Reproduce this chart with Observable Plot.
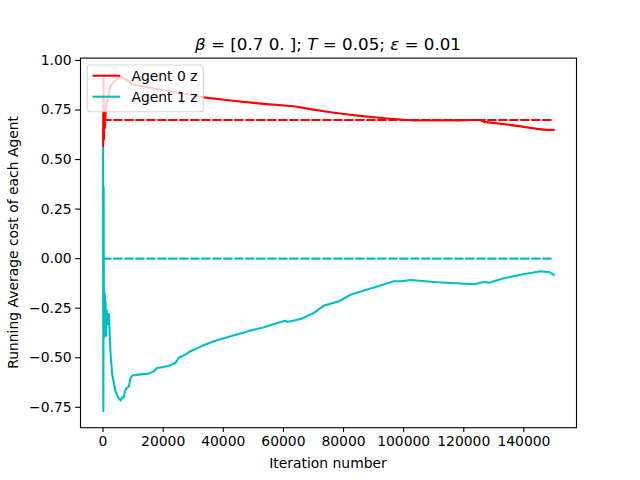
<!DOCTYPE html>
<html>
<head>
<meta charset="utf-8">
<script src="https://cdn.jsdelivr.net/npm/d3@7"></script>
<script src="https://cdn.jsdelivr.net/npm/@observablehq/plot@0.6"></script>
<style>
  html, body { margin: 0; padding: 0; background: #fff; }
  #chart { width: 640px; height: 480px; }
</style>
</head>
<body>
<div id="chart"></div>
<script>
// ---- data ----
const iterRange = [0, 150000];
const beta = [0.7, 0.0];
const agentNames = ["Agent 0 z", "Agent 1 z"];
const agentColors = ["#ff0000", "#00bfbf"];
const xTicks = [0, 20000, 40000, 60000, 80000, 100000, 120000, 140000];
const yTicks = [-0.75, -0.5, -0.25, 0, 0.25, 0.5, 0.75, 1.0];

const agent0X = [0, 150, 300, 450, 600, 800, 1100, 1500, 2000, 2500, 3500, 4600, 5800, 6900, 8600, 9700, 14700, 20000, 25800, 33500, 42400, 53400, 63400, 70000, 75700, 80100, 87000, 94600, 103300, 110000, 118000, 123400, 125500, 126700, 134500, 140000, 144500, 147500, 150000];
const agent0Y = [0.55, 0.92, 0.60, 0.74, 0.66, 0.72, 0.78, 0.80, 0.84, 0.87, 0.89, 0.905, 0.915, 0.91, 0.895, 0.88, 0.865, 0.851, 0.836, 0.814, 0.798, 0.781, 0.769, 0.752, 0.739, 0.730, 0.718, 0.707, 0.697, 0.697, 0.698, 0.700, 0.700, 0.690, 0.677, 0.665, 0.655, 0.650, 0.650];

const agent1X = [0, 100, 200, 300, 400, 500, 600, 700, 850, 1000, 1200, 1500, 1930, 2500, 3060, 4160, 5000, 5820, 6400, 6920, 7300, 7720, 8580, 9200, 9710, 11900, 15200, 16900, 18000, 19700, 22000, 24100, 25200, 27400, 29100, 33000, 36900, 42400, 48000, 53500, 59100, 60700, 61300, 65700, 70100, 73500, 78500, 82300, 87900, 92300, 96800, 99000, 102300, 111200, 123400, 126700, 128400, 133000, 138900, 145600, 148300, 150000];
const agent1Y = [0.56, -0.77, 0.36, -0.40, -0.17, -0.38, -0.18, -0.33, -0.22, -0.39, -0.26, -0.33, -0.28, -0.48, -0.585, -0.67, -0.70, -0.715, -0.70, -0.70, -0.67, -0.655, -0.645, -0.60, -0.59, -0.585, -0.58, -0.568, -0.552, -0.548, -0.54, -0.526, -0.50, -0.484, -0.467, -0.44, -0.417, -0.392, -0.367, -0.346, -0.32, -0.313, -0.32, -0.305, -0.274, -0.237, -0.215, -0.182, -0.156, -0.135, -0.114, -0.114, -0.108, -0.119, -0.129, -0.118, -0.121, -0.10, -0.081, -0.064, -0.067, -0.081];

// ---- tables ----
const series = [
  agent0X.map((x, i) => ({agent: 0, x, y: agent0Y[i]})),
  agent1X.map((x, i) => ({agent: 1, x, y: agent1Y[i]}))
];
const targets = beta.flatMap((b, i) => iterRange.map(x => ({agent: i, x, y: b})));

const font = "DejaVu Sans, sans-serif";
const marginLeft = 80, marginRight = 64, marginTop = 57.6, marginBottom = 52.8;

const plot = Plot.plot({
  width: 640,
  height: 480,
  marginLeft, marginRight, marginTop, marginBottom,
  style: {fontFamily: font, fontSize: "13.9px", background: "#fff", color: "#000"},
  x: {domain: [-7500, 157500], label: null},
  y: {domain: [-0.853, 1.012], label: null},
  marks: [
    Plot.line(series[0], {x: "x", y: "y", stroke: agentColors[0], strokeWidth: 2.1, strokeLinejoin: "round"}),
    Plot.line(targets.filter(d => d.agent === 0), {x: "x", y: "y", stroke: agentColors[0], strokeWidth: 2.1, strokeDasharray: "7.7,3.3"}),
    Plot.line(series[1], {x: "x", y: "y", stroke: agentColors[1], strokeWidth: 2.1, strokeLinejoin: "round"}),
    Plot.line(targets.filter(d => d.agent === 1), {x: "x", y: "y", stroke: agentColors[1], strokeWidth: 2.1, strokeDasharray: "7.7,3.3"}),
    Plot.frame({stroke: "#000", strokeWidth: 1.1}),
    Plot.axisX({ticks: xTicks, tickSize: 4.9, tickPadding: 4, tickFormat: d => String(d), label: null, strokeWidth: 1.1}),
    Plot.axisY({ticks: yTicks, tickSize: 4.9, tickPadding: 4, tickFormat: d3.format(".2f"), label: null, strokeWidth: 1.1})
  ]
});

document.getElementById("chart").appendChild(plot);

// ---- annotations: title, axis labels, legend ----
const svg = d3.select(plot);
const cx = marginLeft + (640 - marginLeft - marginRight) / 2;
const cy = marginTop + (480 - marginTop - marginBottom) / 2;

const title = svg.append("text")
  .attr("x", cx).attr("y", 49.5)
  .attr("text-anchor", "middle")
  .style("font-family", font).style("font-size", "16.7px").attr("fill", "#000");
title.append("tspan").style("font-style", "italic").text("β");
title.append("tspan").text(" = [0.7 0. ]; ");
title.append("tspan").style("font-style", "italic").text("T");
title.append("tspan").text(" = 0.05; ");
title.append("tspan").style("font-style", "italic").text("ε");
title.append("tspan").text(" = 0.01");

svg.append("text")
  .attr("x", cx).attr("y", 468)
  .attr("text-anchor", "middle")
  .style("font-family", font).style("font-size", "13.9px").attr("fill", "#000")
  .text("Iteration number");

svg.append("text")
  .attr("transform", `translate(18,${cy}) rotate(-90)`)
  .attr("text-anchor", "middle")
  .style("font-family", font).style("font-size", "13.9px").attr("fill", "#000")
  .text("Running Average cost of each Agent");

const legend = svg.append("g");
legend.append("rect")
  .attr("x", 87.3).attr("y", 65).attr("width", 116).attr("height", 46.7)
  .attr("rx", 2.8).attr("ry", 2.8)
  .attr("fill", "#fff").attr("fill-opacity", 0.8)
  .attr("stroke", "#ccc").attr("stroke-opacity", 0.8).attr("stroke-width", 1.1);
agentNames.forEach((name, i) => {
  const y = 75.7 + i * 21;
  legend.append("line")
    .attr("x1", 92.5).attr("x2", 120.3).attr("y1", y).attr("y2", y)
    .attr("stroke", agentColors[i]).attr("stroke-width", 2.1);
  legend.append("text")
    .attr("x", 131.4).attr("y", y + 5)
    .attr("text-anchor", "start")
    .style("font-family", font).style("font-size", "13.9px").attr("fill", "#000")
    .text(name);
});
</script>
</body>
</html>
